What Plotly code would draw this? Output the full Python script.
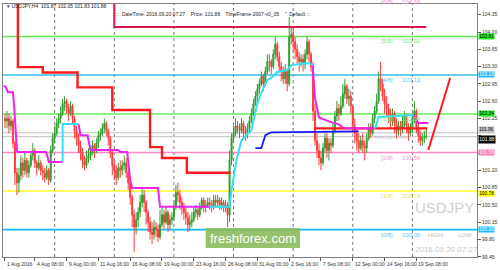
import plotly.graph_objects as go

# ---------------- data ----------------
bar_index = list(range(213))  # H4 bars, 0 = 1 Aug 2016 20:00 ... 212 = 20 Sep 2016 04:00
first_open = 102.25
closes = [102.20,
    102.25, 102.10, 102.20, 101.75, 101.15, 100.95,
    101.10, 101.35, 101.20, 101.40, 101.15, 101.30,
    101.50, 101.60, 101.35, 101.25, 101.35, 101.20,
    101.15, 101.05, 101.20, 101.00, 101.60, 101.85,
    101.95, 102.15, 102.25, 102.35, 102.55, 102.60,
    102.45, 102.35, 102.50, 102.25, 102.00, 101.85,
    101.70, 101.55, 101.40, 101.30, 101.45, 101.50,
    101.55, 101.70, 101.60, 101.75, 101.90, 101.95,
    102.05, 102.15, 102.00, 101.85, 101.55, 101.30,
    101.20, 101.05, 101.25, 101.20, 101.30, 101.35,
    101.15, 100.95, 100.65, 100.30, 100.05, 100.20,
    100.35, 100.55, 100.70, 100.55, 100.35, 100.15,
    99.95, 99.90, 100.05, 100.00, 99.85, 100.10,
    100.30, 100.15, 100.35, 100.10, 100.20, 100.25,
    100.45, 100.75, 100.70, 100.55, 100.45, 100.35,
    100.25, 100.10, 100.15, 100.20, 100.35, 100.40,
    100.30, 100.45, 100.60, 100.45, 100.50, 100.55,
    100.50, 100.45, 100.60, 100.55, 100.60, 100.50,
    100.55, 100.45, 100.50, 100.30, 101.40, 101.85,
    101.95, 102.10, 102.05, 102.00, 102.15, 101.95,
    101.95, 102.05, 102.20, 102.35, 102.55, 102.70,
    102.85, 102.95, 103.10, 102.95, 103.20, 103.40,
    103.40, 103.30, 103.55, 103.75, 103.50, 103.30,
    103.20, 103.05, 103.20, 102.95, 103.90, 103.95,
    103.80, 103.65, 103.50, 103.40, 103.45, 103.35,
    103.55, 103.80, 103.55, 103.30, 102.40, 101.80,
    101.60, 101.45, 101.35, 101.65, 101.85, 101.60,
    101.75, 101.70, 102.00, 102.30, 102.45, 102.35,
    102.50, 102.75, 102.90, 102.65, 102.70, 102.50,
    102.10, 101.95, 101.80, 101.65, 101.80, 101.70,
    101.65, 101.85, 102.05, 101.95, 102.25, 102.40,
    102.60, 103.05, 102.95, 102.70, 102.55, 102.45,
    102.30, 102.20, 102.35, 102.15, 102.00, 102.10,
    102.05, 102.20, 102.30, 102.10, 101.95, 102.05,
    102.25, 102.40, 102.05, 101.90, 101.80, 101.87,
    101.87, 101.88]
highs = [102.35,
    102.40, 102.35, 102.30, 102.25, 101.80, 101.25,
    101.25, 101.50, 101.45, 101.55, 101.45, 101.40,
    101.60, 101.75, 101.65, 101.40, 101.50, 101.40,
    101.30, 101.25, 101.30, 101.25, 101.70, 101.95,
    102.10, 102.25, 102.35, 102.50, 102.65, 102.70,
    102.65, 102.55, 102.60, 102.55, 102.30, 102.10,
    101.95, 101.80, 101.65, 101.50, 101.60, 101.65,
    101.65, 101.80, 101.75, 101.85, 102.00, 102.05,
    102.15, 102.25, 102.20, 102.05, 101.90, 101.60,
    101.40, 101.30, 101.35, 101.40, 101.40, 101.50,
    101.45, 101.20, 101.00, 100.70, 100.40, 100.35,
    100.45, 100.70, 100.85, 100.80, 100.60, 100.40,
    100.25, 100.15, 100.20, 100.15, 100.10, 100.40,
    100.45, 100.40, 100.45, 100.40, 100.30, 100.35,
    100.55, 100.90, 100.95, 100.80, 100.65, 100.55,
    100.45, 100.35, 100.30, 100.35, 100.45, 100.50,
    100.45, 100.55, 100.65, 100.65, 100.60, 100.65,
    100.65, 100.60, 100.70, 100.70, 100.70, 100.65,
    100.65, 100.60, 100.60, 100.55, 101.60, 101.95,
    102.10, 102.25, 102.20, 102.15, 102.25, 102.20,
    102.10, 102.15, 102.30, 102.45, 102.65, 102.80,
    102.95, 103.05, 103.20, 103.15, 103.30, 103.55,
    103.55, 103.45, 103.65, 103.90, 103.80, 103.60,
    103.40, 103.30, 103.35, 103.25, 104.30, 104.10,
    104.10, 103.90, 103.75, 103.60, 103.55, 103.55,
    103.65, 103.90, 103.85, 103.60, 103.40, 102.55,
    101.95, 101.75, 101.60, 101.75, 101.95, 101.95,
    101.85, 101.85, 102.15, 102.40, 102.60, 102.55,
    102.70, 102.95, 103.05, 102.95, 102.85, 102.80,
    102.40, 102.25, 102.05, 101.95, 101.90, 101.95,
    101.80, 101.95, 102.15, 102.15, 102.35, 102.50,
    102.75, 103.20, 103.40, 103.05, 102.85, 102.70,
    102.55, 102.45, 102.45, 102.40, 102.25, 102.20,
    102.20, 102.30, 102.40, 102.35, 102.15, 102.15,
    102.35, 102.60, 102.45, 102.15, 102.00, 101.95,
    102.00, 102.05]
lows = [102.05,
    102.05, 101.95, 102.00, 101.65, 100.90, 100.70,
    100.75, 101.00, 101.05, 101.10, 101.05, 101.05,
    101.25, 101.40, 101.25, 101.10, 101.20, 101.10,
    101.00, 100.95, 101.00, 100.90, 100.95, 101.55,
    101.75, 101.90, 102.05, 102.15, 102.30, 102.40,
    102.35, 102.20, 102.30, 102.15, 101.85, 101.70,
    101.55, 101.40, 101.25, 101.20, 101.25, 101.35,
    101.40, 101.50, 101.45, 101.55, 101.65, 101.80,
    101.90, 101.95, 101.90, 101.70, 101.45, 101.10,
    101.00, 100.90, 101.00, 101.05, 101.10, 101.20,
    101.05, 100.80, 100.50, 100.05, 99.55, 99.90,
    100.05, 100.25, 100.45, 100.35, 100.10, 99.95,
    99.80, 99.70, 99.80, 99.85, 99.75, 99.80,
    100.05, 100.00, 100.10, 99.95, 100.00, 100.10,
    100.20, 100.40, 100.55, 100.40, 100.30, 100.20,
    100.10, 99.95, 99.98, 100.05, 100.15, 100.25,
    100.20, 100.25, 100.40, 100.35, 100.35, 100.45,
    100.40, 100.35, 100.40, 100.45, 100.45, 100.40,
    100.40, 100.35, 100.35, 100.05, 100.15, 101.30,
    101.75, 101.90, 101.95, 101.85, 101.95, 101.85,
    101.80, 101.85, 101.95, 102.15, 102.30, 102.50,
    102.60, 102.75, 102.90, 102.80, 102.90, 103.15,
    103.20, 103.15, 103.25, 103.45, 103.40, 103.20,
    103.00, 102.95, 102.95, 102.80, 102.90, 103.75,
    103.60, 103.45, 103.35, 103.20, 103.30, 103.20,
    103.25, 103.45, 103.40, 103.20, 102.20, 101.70,
    101.45, 101.30, 101.20, 101.30, 101.55, 101.45,
    101.40, 101.55, 101.65, 101.95, 102.20, 102.20,
    102.30, 102.45, 102.65, 102.55, 102.50, 102.35,
    101.95, 101.75, 101.60, 101.55, 101.60, 101.55,
    101.40, 101.55, 101.80, 101.85, 101.90, 102.15,
    102.35, 102.55, 102.80, 102.60, 102.35, 102.30,
    102.15, 102.05, 102.10, 101.95, 101.85, 101.90,
    101.90, 101.95, 102.05, 101.95, 101.80, 101.90,
    101.95, 102.15, 101.95, 101.75, 101.70, 101.70,
    101.75, 101.83]
opens = [first_open] + closes[:-1]

# x-axis labels (bar index, text)
xlabel_bars = [0, 15, 31, 47, 63, 79, 95, 111, 127, 143, 159, 175, 191, 207]
xlabel_text = ["1 Aug 2016", "4 Aug 08:00", "9 Aug 00:00", "11 Aug 16:00", "16 Aug 08:00",
               "19 Aug 00:00", "23 Aug 16:00", "26 Aug 08:00", "31 Aug 00:00", "2 Sep 16:00",
               "7 Sep 08:00", "12 Sep 00:00", "14 Sep 16:00", "19 Sep 08:00"]
week_start_bars = [25, 55, 85, 115, 145, 175, 205]

# y-axis ticks (the ones hidden under price tags carry no label)
ytick_vals = [104.35, 104.00, 103.65, 103.30, 102.95, 102.60, 102.25, 101.90, 101.55,
              101.20, 100.85, 100.50, 100.15, 99.80, 99.45]
ytick_hidden = [101.90, 101.55]

# Murrey levels
level_names = ["[6/8]", "[5/8]", "[4/8]", "[3/8]", "[2/8]", "[1/8]", "[0/8]"]
level_prices = [104.69, 103.91, 103.13, 102.34, 101.56, 100.78, 100.00]
level_line_colors = ["#FF88CC", "#66EE55", "#33BBEE", "#66EE55", "#FF88C8", "#FFFF22", "#11BBFF"]
level_text_colors = ["#E592D5", "#7EE07E", "#66C2EE", "#7EE07E", "#F595C8", "#E8E84A", "#66C2EE"]
level_tag_bg = [None, "#22EE22", "#22BBFF", "#22EE22", "#FF77BB", "#FFFF00", "#22BBFF"]
level_tag_fg = [None, "#000000", "#FFFFFF", "#000000", "#FFFFFF", "#000000", "#FFFFFF"]
level_tag_shift = [0, 0, 0, 1, 0, -2, 0]

upper_line_price = 104.10
upper_line_start = 55
upper_line_end = 212
yesterday_close = 101.96
current_price = 101.88

# indicator step lines (bar index, price)
red_stop_x = [-1, 6.5, 19, 36.5, 54, 73, 79, 91.5, 113.5]
red_stop_y = [104.9, 103.29, 103.18, 102.88, 102.42, 101.67, 101.45, 101.15, 101.15]
red_flat_x = [155.5, 212.5]
red_flat_y = [102.05, 102.05]
red_proj_x = [213, 224]
red_proj_y = [101.61, 103.07]
blue_x = [126, 129, 131, 134, 178]
blue_y = [101.65, 101.65, 101.91, 101.97, 101.99]
magenta_x = [-0.5, 0.5, 1.5, 4, 4.5, 5.5, 6, 6.5, 20.5, 21.5, 22, 29, None,
             37, 38, 41.5, 43, 57, 58, 61.5, 63, 64, 77, 78, 103, None,
             154.75, 156, 158, 163, 168, 170.5, 186, None,
             205.5, 208, 213]
magenta_y = [102.92, 102.88, 102.78, 102.78, 102.56, 101.81, 101.61, 101.57, 101.57, 101.47, 101.37, 101.37, None,
             102.14, 101.91, 101.91, 101.61, 101.61, 101.57, 101.57, 101.00, 100.84, 100.84, 100.46, 100.46, None,
             103.33, 102.66, 102.27, 102.19, 102.13, 102.05, 102.05, None,
             102.32, 102.16, 102.16]
cyan_x = [29, 29, 37, None,
          103, 113, 114, 116.5, 119, 124, 127, 129.5, 132, 134.5, 137, 142, 144, 153, 154.75, None,
          186, 186.5, 188, 205.5]
cyan_y = [101.37, 102.14, 102.14, None,
          100.46, 100.46, 100.80, 101.41, 101.81, 102.01, 102.56, 102.82, 103.03, 103.09, 103.19, 103.23, 103.33, 103.37, 103.33, None,
          102.05, 102.07, 102.28, 102.32]

# ---------------- figure ----------------
W, H = 500, 270
L, R, T, B = 2, 479, 4, 257


def px(xp):
    return (xp - L) / (R - L)


def py(yp):
    return (B - yp) / (B - T)


FONT = "Liberation Sans"
fig = go.Figure()

fig.add_trace(go.Candlestick(
    x=bar_index, open=opens, high=highs, low=lows, close=closes,
    increasing=dict(line=dict(color="#2E9E2E", width=1), fillcolor="#2E9E2E"),
    decreasing=dict(line=dict(color="#FF3B3B", width=1), fillcolor="#FF3B3B"),
    whiskerwidth=0, hoverinfo="skip", showlegend=False))

fig.add_trace(go.Scatter(x=[upper_line_start, upper_line_start, upper_line_end],
                         y=[104.8, upper_line_price, upper_line_price], mode="lines",
                         line=dict(color="#D8174A", width=2), hoverinfo="skip", showlegend=False))
fig.add_trace(go.Scatter(x=red_stop_x, y=red_stop_y, mode="lines", line_shape="hv",
                         line=dict(color="#FF1A1A", width=2.4), hoverinfo="skip", showlegend=False))
fig.add_trace(go.Scatter(x=blue_x, y=blue_y, mode="lines",
                         line=dict(color="#1818FF", width=1.8), hoverinfo="skip", showlegend=False))
fig.add_trace(go.Scatter(x=red_flat_x, y=red_flat_y, mode="lines",
                         line=dict(color="#FF1A1A", width=2.4), hoverinfo="skip", showlegend=False))
fig.add_trace(go.Scatter(x=magenta_x, y=magenta_y, mode="lines", connectgaps=False,
                         line=dict(color="#EE22EE", width=2), hoverinfo="skip", showlegend=False))
fig.add_trace(go.Scatter(x=cyan_x, y=cyan_y, mode="lines", connectgaps=False,
                         line=dict(color="#33E0F5", width=2), hoverinfo="skip", showlegend=False))
fig.add_trace(go.Scatter(x=red_proj_x, y=red_proj_y, mode="lines",
                         line=dict(color="#FF1A1A", width=2), hoverinfo="skip", showlegend=False))

shapes = []
for b in week_start_bars:
    shapes.append(dict(type="line", xref="x", yref="paper", x0=b, x1=b, y0=0, y1=1,
                       line=dict(color="#777777", width=1, dash="dot"), layer="below"))
for name, p, c in zip(level_names, level_prices, level_line_colors):
    if 99.44 < p < 104.57:
        shapes.append(dict(type="line", xref="paper", yref="y", x0=0, x1=1, y0=p, y1=p,
                           line=dict(color=c, width=1.6), layer="below"))
shapes.append(dict(type="line", xref="paper", yref="y", x0=0, x1=1, y0=yesterday_close, y1=yesterday_close,
                   line=dict(color="#C4C4C4", width=1), layer="below"))
shapes.append(dict(type="line", xref="paper", yref="y", x0=0, x1=1, y0=current_price, y1=current_price,
                   line=dict(color="#BDBDBD", width=1), layer="below"))
# freshforex logo box
shapes.append(dict(type="rect", xref="paper", yref="paper", x0=px(206), x1=px(301), y0=py(248), y1=py(228),
                   fillcolor="#8DBA5C", line=dict(width=0), opacity=0.9, layer="above"))

ann = []
# x labels
for b, t in zip(xlabel_bars, xlabel_text):
    ann.append(dict(x=b, y=py(264), xref="x", yref="paper", text=t, showarrow=False,
                    xanchor="left", yanchor="middle", xshift=0,
                    font=dict(family=FONT, size=5, color="#333333")))
# level texts inside chart
for name, p, tc in zip(level_names, level_prices, level_text_colors):
    if p > 104.57:
        yy = py(1.5)
        ann.append(dict(x=188, y=yy, xref="x", yref="paper", text=name, showarrow=False,
                        xanchor="left", yanchor="middle", font=dict(family=FONT, size=6, color=tc)))
        ann.append(dict(x=199, y=yy, xref="x", yref="paper", text="%.2f" % p, showarrow=False,
                        xanchor="left", yanchor="middle", font=dict(family=FONT, size=6, color=tc)))
        continue
    ann.append(dict(x=188, y=p, xref="x", yref="y", text=name, showarrow=False,
                    xanchor="left", yanchor="middle", yshift=-5, font=dict(family=FONT, size=6, color=tc)))
    ann.append(dict(x=199, y=p, xref="x", yref="y", text="%.2f" % p, showarrow=False,
                    xanchor="left", yanchor="middle", yshift=-5, font=dict(family=FONT, size=6, color=tc)))
ann.append(dict(x=212, y=level_prices[-1], xref="x", yref="y", text="HIGH", showarrow=False,
                xanchor="left", yanchor="middle", yshift=-5, font=dict(family=FONT, size=6, color="#C0C0C0")))
ann.append(dict(x=227, y=level_prices[-1], xref="x", yref="y", text="LOW", showarrow=False,
                xanchor="left", yanchor="middle", yshift=-5, font=dict(family=FONT, size=6, color="#C0C0C0")))
ann.append(dict(x=183, y=yesterday_close, xref="x", yref="y", text="Yesterday Close", showarrow=False,
                xanchor="left", yanchor="middle", yshift=-4, font=dict(family=FONT, size=5, color="#C8C8C8")))
# right price tags
for p, bg, fg, sh in zip(level_prices, level_tag_bg, level_tag_fg, level_tag_shift):
    if bg is None:
        continue
    ann.append(dict(x=1, y=p, xref="paper", yref="y", text="%.2f" % p, showarrow=False,
                    xanchor="left", yanchor="middle", xshift=1, yshift=sh, bgcolor=bg, borderpad=0.2,
                    font=dict(family=FONT, size=4.8, color=fg)))
ann.append(dict(x=1, y=yesterday_close, xref="paper", yref="y", text="%.2f" % yesterday_close, showarrow=False,
                xanchor="left", yanchor="bottom", xshift=1, yshift=-1, bgcolor="#C8C8C8", borderpad=0.3,
                font=dict(family=FONT, size=4.5, color="#000000")))
ann.append(dict(x=1, y=current_price, xref="paper", yref="y", text="%.2f" % current_price, showarrow=False,
                xanchor="left", yanchor="top", xshift=1, yshift=2, bgcolor="#000000", borderpad=0.3,
                font=dict(family=FONT, size=5, color="#FFFFFF")))
# header texts
ann.append(dict(x=px(4), y=py(6), xref="paper", yref="paper", text="▾ USDJPY,H4  101.87 102.05 101.83 101.88",
                showarrow=False, xanchor="left", yanchor="middle", font=dict(family=FONT, size=5, color="#222222")))
ann.append(dict(x=px(113), y=py(13.5), xref="paper", yref="paper",
                text=":::  DateTime: 2016.09.20 07:27    Price: 101.88    TimeFrame-2007-v0_05    \"  Default :::",
                showarrow=False, xanchor="left", yanchor="middle", font=dict(family=FONT, size=5, color="#222222")))
# watermarks
ann.append(dict(x=px(446), y=py(207), xref="paper", yref="paper", text="USDJPY", showarrow=False,
                xanchor="center", yanchor="middle", font=dict(family=FONT, size=15, color="#CFCFCF")))
ann.append(dict(x=px(448), y=py(249), xref="paper", yref="paper", text="2016.09.20 07:27", showarrow=False,
                xanchor="center", yanchor="middle", font=dict(family=FONT, size=8, color="#C8C8C8")))
ann.append(dict(x=px(253.5), y=py(238), xref="paper", yref="paper", text="freshforex.com", showarrow=False,
                xanchor="center", yanchor="middle", font=dict(family=FONT, size=13, color="#FFFFFF")))

fig.update_layout(
    width=W, height=H, margin=dict(l=L, r=W - R, t=T, b=H - B),
    paper_bgcolor="white", plot_bgcolor="white",
    shapes=shapes, annotations=ann, showlegend=False,
    xaxis=dict(range=[-1, 237.5], rangeslider=dict(visible=False), showgrid=False, zeroline=False,
               tickvals=xlabel_bars, showticklabels=False, ticks="outside", ticklen=3, tickcolor="#555555",
               showline=True, linecolor="#808080", linewidth=1, mirror=True, fixedrange=True),
    yaxis=dict(range=[99.445, 104.567], side="right", showgrid=False, zeroline=False,
               tickvals=ytick_vals,
               ticktext=["" if v in ytick_hidden else "%.2f" % v for v in ytick_vals],
               ticks="outside", ticklen=3, tickcolor="#555555",
               tickfont=dict(family=FONT, size=5, color="#333333"),
               showline=True, linecolor="#808080", linewidth=1, mirror=True, fixedrange=True),
)

fig.write_html("out.html")
